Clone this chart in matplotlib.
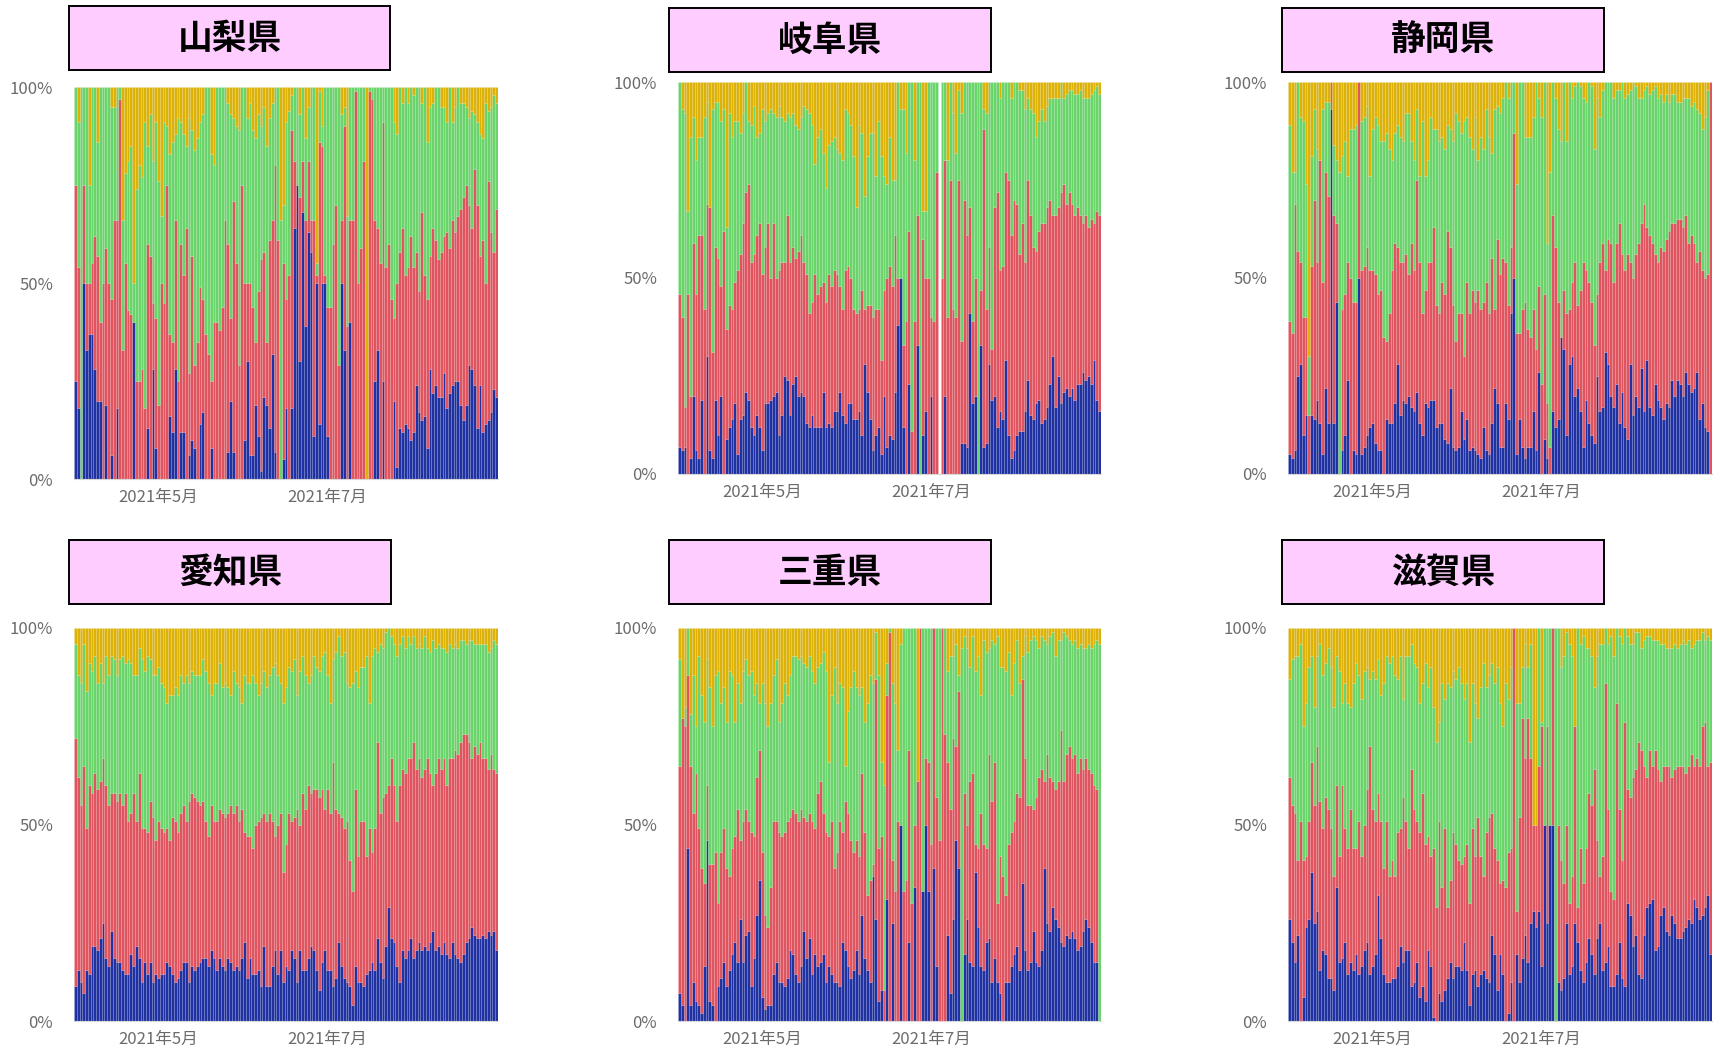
import numpy as np
import pandas as pd
import matplotlib
matplotlib.use('Agg')
import matplotlib.pyplot as plt

plt.rcParams['font.family'] = ['Noto Sans CJK JP', 'DejaVu Sans']

nan = np.nan

# daily shares (%) per prefecture, 2021-04-01 .. 2021-08-31
# yellow = 100 - blue - red - green
yamanashi_blue = [25,18,0,50,33,37,37,28,20,20, 0,19,0,6,0,18,0,0,0,0,
                  0,40,0,0,0,0,13,0,28,8, 0,0,0,0,16,12,28,0,12,12,
                  0,6,10,8,0,14,17,0,0,8, 0,0,0,0,0,7,20,7,0,0,
                  0,10,30,6,6,19,11,2,21,19, 13,32,7,0,0,5,18,0,18,64,
                  75,30,68,39,63,58,11,50,14,50, 50,11,0,0,0,0,50,33,0,40,
                  0,0,0,0,0,0,0,0,25,33, 0,25,0,0,0,20,3,13,12,14,
                  13,10,12,24,17,15,16,8,28,22, 24,21,21,27,18,22,24,25,25,19,
                  15,19,29,28,24,13,24,12,14,15, 17,23,21]
yamanashi_red = [50,36,0,25,17,13,18,34,37,20, 50,40,50,40,66,48,97,33,55,43,
                 42,0,25,25,28,18,47,57,17,33, 19,50,45,75,21,23,38,25,48,40,
                 64,21,47,21,35,35,29,37,32,17, 40,40,38,44,66,53,21,64,55,29,
                 75,40,20,44,38,16,37,54,37,16, 48,34,73,61,0,50,28,52,71,17,
                 0,42,13,27,18,8,55,2,72,35, 2,33,44,60,70,29,16,57,39,26,
                 66,99,50,59,81,0,99,97,41,31, 55,66,54,60,46,21,47,45,52,38,
                 41,52,42,34,31,53,36,38,29,42, 37,35,37,35,45,37,42,38,42,50,
                 57,56,41,36,55,57,33,49,36,61, 46,35,48]
yamanashi_green = [25,37,100,25,50,25,45,38,29,60, 50,41,50,49,29,34,3,33,23,38,
                   43,10,49,55,49,73,25,36,36,50, 57,17,46,15,46,51,22,67,31,36,
                   21,65,32,55,52,42,47,63,68,58, 40,60,62,56,34,36,52,21,35,60,
                   25,50,42,46,45,52,45,34,37,50, 31,30,20,39,66,15,45,42,9,19,
                   25,21,19,21,14,34,34,3,13,5, 48,56,56,40,30,71,27,5,28,34,
                   34,1,50,41,19,0,1,3,34,36, 45,9,46,40,54,50,38,42,32,48,
                   42,38,44,42,52,28,48,40,38,32, 39,44,37,33,28,41,25,32,33,27,
                   24,20,22,30,14,21,31,26,46,18, 32,40,27]

gifu_blue = [7,6,7,0,4,20,6,4,19,0, 30,6,4,19,10,20,0,9,12,14,
             18,5,14,15,21,19,12,10,15,12, 6,18,18,19,20,21,10,15,25,24,
             15,23,25,20,21,20,13,12,15,12, 12,12,21,12,13,12,16,16,21,15,
             13,18,18,14,14,16,10,28,21,14, 6,10,12,5,20,7,10,9,21,38,
             50,12,0,23,0,0,33,0,10,16, 0,20,0,0,nan,0,20,0,0,0,
             0,0,8,8,7,41,18,20,0,33, 7,8,28,19,20,12,16,14,29,10,
             4,6,10,11,11,16,24,15,14,18, 19,13,14,17,23,30,17,25,18,21,
             22,20,22,19,23,23,26,24,25,23, 29,19,16]
gifu_red = [39,34,10,46,16,39,40,57,42,42, 39,62,27,39,45,28,62,28,31,28,
            31,47,42,49,51,55,42,46,46,52, 45,40,46,31,44,29,42,39,29,42,
            39,35,30,37,40,34,38,29,29,39, 34,36,28,32,38,36,36,35,27,27,
            39,35,32,28,27,26,37,14,22,29, 34,32,30,24,27,43,43,39,40,12,
            0,21,39,39,11,39,33,0,50,34, 50,20,39,77,nan,50,60,40,75,42,
            40,75,26,62,54,27,21,30,0,14, 81,34,30,13,48,60,36,39,48,65,
            57,64,59,45,53,38,51,51,44,39, 43,51,50,51,47,36,49,43,54,53,
            47,52,47,47,45,43,38,42,38,42, 35,48,50]
gifu_green = [54,53,75,21,66,32,34,25,25,49, 26,0,62,37,40,42,31,26,49,44,
              41,38,31,28,28,16,35,38,25,23, 42,32,28,43,28,41,42,37,36,26,
              37,34,34,31,30,40,42,51,45,28, 40,40,33,29,33,37,34,32,34,38,
              41,39,39,39,27,47,40,29,38,44, 47,34,48,52,29,24,33,27,14,50,
              43,60,43,38,89,41,34,100,7,17, 50,60,61,23,nan,50,20,40,25,50,
              42,23,58,30,39,32,61,50,100,53, 5,50,42,68,32,28,44,47,23,25,
              35,30,31,42,34,39,21,27,34,29, 28,29,26,26,26,30,30,28,28,22,
              28,26,29,31,29,32,32,30,33,32, 34,32,31]

shizuoka_blue = [5,4,6,25,28,10,15,0,15,14, 19,13,5,22,13,93,13,44,0,6,
                 10,24,0,6,5,50,5,7,10,12, 13,8,6,6,0,14,13,13,18,28,
                 15,19,18,20,17,16,21,13,10,18, 17,19,19,12,13,13,9,8,22,7,
                 6,7,16,9,14,6,7,6,5,4, 12,6,5,13,22,18,7,7,18,14,
                 41,50,5,14,7,4,7,7,16,6, 26,0,9,4,0,16,12,14,35,32,
                 10,28,30,20,22,16,7,19,13,10, 8,25,16,17,31,28,20,17,23,13,
                 21,12,9,28,15,20,17,27,16,29, 17,15,23,19,17,14,18,17,24,20,
                 24,23,20,26,23,21,22,26,14,18, 12,11,0]
shizuoka_red = [34,32,63,32,26,30,25,15,38,56, 35,67,44,55,58,7,53,20,0,36,
                36,30,50,38,39,50,47,46,48,40, 39,43,40,41,35,20,28,39,41,30,
                39,35,38,31,42,36,54,41,31,29, 37,35,44,31,28,36,37,54,36,36,
                28,34,25,21,35,35,40,38,42,38, 32,43,36,42,20,42,44,48,36,29,
                17,37,31,22,35,40,30,28,26,26, 22,23,37,14,7,50,46,30,0,15,
                31,14,19,34,21,31,47,33,36,34, 25,21,38,42,21,32,39,32,36,51,
                35,40,47,26,35,36,42,37,53,34, 44,44,33,35,41,43,42,45,40,44,
                41,42,43,40,36,40,37,28,43,34, 38,40,100]
shizuoka_green = [50,41,8,43,37,50,34,15,28,23, 29,0,44,18,24,0,18,16,77,39,
                  39,22,38,44,45,0,38,38,36,24, 36,40,43,38,50,53,42,28,28,31,
                  32,31,36,41,26,28,18,22,49,29, 26,37,25,45,44,37,37,27,30,42,
                  58,49,46,60,42,45,36,47,33,44, 39,44,45,27,51,34,41,41,46,53,
                  42,13,38,64,58,42,49,51,49,68, 48,68,54,41,70,34,38,44,50,53,
                  44,58,47,45,57,52,42,43,51,55, 50,50,37,39,48,40,41,47,39,34,
                  44,44,41,44,50,43,37,32,29,36, 36,39,43,42,39,38,37,33,33,33,
                  30,30,33,30,37,33,36,39,35,36, 41,47,0]

aichi_blue = [9,13,10,7,13,12,19,19,18,21, 25,16,14,23,16,15,15,13,12,12,
              17,14,19,16,10,15,12,15,10,12, 11,12,12,15,14,12,10,11,13,15,
              15,10,14,13,14,15,16,16,14,18, 16,13,16,14,13,16,15,13,14,13,
              16,20,11,16,12,12,13,9,19,9, 9,14,18,12,18,10,14,13,18,16,
              10,18,13,13,16,19,18,13,8,15, 18,13,13,9,11,20,14,11,10,9,
              4,14,10,10,9,12,13,15,13,21, 15,11,19,29,21,20,14,10,18,16,
              18,21,16,18,20,18,19,18,20,23, 18,19,17,20,17,16,20,17,16,15,
              17,20,21,24,22,21,21,22,21,23, 22,23,18]
aichi_red = [63,49,45,58,36,48,39,44,41,40, 42,44,41,35,42,41,43,42,46,39,
             36,44,32,47,39,34,36,41,42,34, 40,37,36,34,32,40,41,37,40,40,
             36,46,44,44,42,40,40,35,33,37, 35,38,38,39,39,37,40,40,41,38,
             38,28,36,31,32,38,38,43,34,42, 44,37,29,38,35,28,31,40,33,36,
             44,32,45,41,44,39,41,46,49,44, 36,46,40,57,43,33,38,38,41,32,
             29,45,32,41,42,30,36,28,36,50, 38,46,39,31,46,40,37,50,46,47,
             49,46,55,46,47,44,45,49,43,37, 45,48,47,47,43,51,47,52,52,56,
             56,53,50,43,48,47,50,45,46,41, 46,41,45]
aichi_green = [24,26,31,31,35,31,31,30,27,30, 19,33,33,35,34,32,34,38,33,41,
               38,30,37,32,43,40,45,36,36,42, 39,37,37,32,37,31,34,35,35,31,
               37,30,31,31,32,33,36,38,39,28, 35,35,37,32,34,32,28,36,31,34,
               27,40,39,39,44,36,32,34,36,34, 35,39,44,38,33,43,40,37,38,40,
               29,39,35,34,26,30,34,31,32,34, 40,29,28,26,40,45,41,45,35,44,
               53,30,43,39,39,51,32,50,46,23, 43,38,41,40,31,36,42,36,34,32,
               31,29,27,31,29,33,34,28,31,37, 32,29,31,28,34,29,28,27,27,26,
               24,23,26,30,26,28,25,29,29,30, 27,33,33]

mie_blue = [7,4,0,44,4,10,5,4,2,14, 46,5,4,0,9,11,15,9,13,17,
            20,15,26,15,22,23,9,16,27,36, 6,3,4,4,12,15,10,10,9,11,
            18,17,12,10,14,23,16,21,12,17, 14,15,17,10,14,12,10,10,9,20,
            18,14,11,13,18,12,27,16,13,10, 37,26,5,8,0,31,0,25,0,0,
            50,0,0,20,0,34,0,0,33,50, 33,0,39,14,0,0,0,22,7,26,
            46,39,0,17,26,15,14,38,24,14, 13,20,21,10,16,10,7,0,10,10,
            14,17,19,13,35,18,13,15,23,15, 14,18,39,25,23,29,26,24,20,19,
            22,21,23,21,18,19,23,26,24,20, 15,15,0]
mie_red = [58,73,75,44,61,43,58,45,37,21, 14,35,36,43,21,32,34,30,24,27,
           27,39,20,36,32,28,39,31,35,33, 37,24,20,30,39,36,38,37,39,40,
           34,37,41,41,40,29,35,32,39,32, 44,46,36,38,33,39,29,33,42,28,
           38,39,35,30,28,30,36,32,19,26, 3,61,39,39,8,52,99,16,33,51,
           0,33,36,49,30,16,61,100,0,17, 33,45,61,43,46,100,73,44,47,46,
           24,45,0,41,24,46,49,7,20,39, 32,24,47,46,50,20,35,37,22,35,
           34,34,39,44,52,49,42,40,31,42, 48,46,22,43,39,32,33,37,54,42,
           46,49,44,47,45,48,41,41,40,43, 45,44,0]
mie_green = [27,0,5,12,13,35,12,44,44,41, 32,45,35,45,59,38,36,37,52,44,
             29,32,35,38,38,37,41,36,24,12, 43,54,51,47,37,41,28,34,38,32,
             36,39,40,41,39,39,39,40,38,37, 32,30,41,41,19,32,51,38,35,37,
             9,26,39,46,39,41,22,28,49,52, 46,12,44,19,52,8,1,45,48,18,
             46,67,64,31,70,50,0,0,67,33, 34,55,0,43,54,0,27,23,39,21,
             26,4,95,40,45,29,35,44,49,30, 52,50,27,41,30,68,48,53,57,49,
             35,40,39,29,6,31,39,42,44,40, 33,34,36,28,36,38,34,36,23,38,
             30,27,29,29,32,29,31,28,32,32, 36,38,96]

shiga_blue = [26,20,15,22,0,6,24,26,38,25, 28,13,18,17,11,11,8,34,15,16,
              20,12,15,13,17,12,14,18,20,12, 14,17,32,21,12,10,10,11,11,14,
              19,15,18,18,9,10,15,6,9,5, 18,14,1,0,7,5,8,11,15,11,
              14,14,13,20,13,4,12,13,9,12, 13,11,10,22,17,8,17,12,0,2,
              10,0,17,10,16,22,15,25,28,24, 28,14,50,25,50,50,0,10,8,11,
              25,12,14,25,20,13,10,15,21,17, 12,21,25,13,15,19,9,9,12,20,
              11,9,30,27,19,22,12,11,22,29, 30,31,18,19,27,29,23,22,27,25,
              21,21,23,24,26,25,31,29,26,27, 29,32,17]
shiga_red = [36,35,38,19,51,35,18,25,28,30, 42,43,31,40,43,38,29,26,27,44,
             29,32,39,31,27,39,28,32,39,58, 40,34,26,30,27,41,27,30,26,34,
             30,42,33,26,55,44,36,42,49,40, 29,28,43,29,44,29,41,18,21,37,
             31,27,27,22,32,26,37,29,43,30, 24,37,42,31,27,33,18,24,34,41,
             34,100,11,42,61,45,62,42,22,26, 37,61,0,50,0,50,0,40,33,24,
             25,18,23,50,9,31,25,29,37,38, 52,25,12,29,71,35,24,22,69,34,
             30,67,29,30,43,42,59,58,43,33, 39,34,51,45,34,36,42,43,35,39,
             44,44,42,39,39,43,34,38,39,48, 47,33,49]
shiga_green = [25,37,40,52,45,34,39,39,27,25, 23,40,39,34,41,41,43,33,47,21,
               37,37,26,42,47,37,40,39,31,17, 35,36,34,32,47,42,54,52,51,39,
               44,25,42,49,32,37,39,33,28,46, 38,48,36,42,25,52,33,57,49,41,
               42,49,46,40,41,41,37,39,25,43, 54,37,36,38,42,49,46,39,52,39,
               46,0,53,29,13,29,13,29,0,0, 35,1,50,25,50,0,100,50,49,58,
               49,66,56,0,71,52,63,51,37,38, 21,47,59,54,14,42,65,62,19,44,
               55,24,39,39,34,35,28,26,32,36, 29,32,28,33,35,31,30,30,33,32,
               30,31,32,33,32,27,31,30,32,24, 21,33,31]

titles = ['山梨県', '岐阜県', '静岡県', '愛知県', '三重県', '滋賀県']
series = [
    (yamanashi_blue, yamanashi_red, yamanashi_green),
    (gifu_blue, gifu_red, gifu_green),
    (shizuoka_blue, shizuoka_red, shizuoka_green),
    (aichi_blue, aichi_red, aichi_green),
    (mie_blue, mie_red, mie_green),
    (shiga_blue, shiga_red, shiga_green),
]
tick_dates = ['2021-05-01', '2021-07-01']
tick_labels = ['2021年5月', '2021年7月']

colors = ['#2031A2', '#DF545E', '#68D469', '#DCB208']

W, H = 1714, 1051
# axes boxes in pixels: left, right, top, bottom
axes_px = [(74, 498, 87, 479), (678, 1101, 82, 474), (1288, 1712, 82, 474),
           (74, 498, 628, 1021), (678, 1101, 628, 1021), (1288, 1712, 628, 1021)]
title_px = [(69, 390, 6, 70), (669, 991, 8, 72), (1282, 1604, 8, 72),
            (69, 391, 540, 604), (669, 991, 540, 604), (1282, 1604, 540, 604)]

fig = plt.figure(figsize=(W / 100, H / 100), dpi=100)
fig.patch.set_facecolor('white')

for k in range(6):
    blue, red, green = [np.array(s, dtype=float) for s in series[k]]
    yellow = 100 - blue - red - green
    dates = pd.date_range('2021-04-01', periods=len(blue), freq='D')

    l, r, t, b = axes_px[k]
    ax = fig.add_axes([l / W, 1 - b / H, (r - l) / W, (b - t) / H])
    bottom = np.zeros(len(blue))
    for vals, c in zip([blue, red, green, yellow], colors):
        ax.bar(dates, vals, bottom=bottom, width=1.0, color=c,
               edgecolor=(1, 1, 1, 0.16), linewidth=0.4)
        bottom = bottom + vals

    ax.set_xlim(dates[0] - pd.Timedelta(hours=12), dates[-1] + pd.Timedelta(hours=12))
    ax.set_ylim(0, 100)
    ax.set_yticks([0, 50, 100])
    ax.set_yticklabels(['0%', '50%', '100%'])
    ax.set_xticks(pd.to_datetime(tick_dates))
    ax.set_xticklabels(tick_labels)
    for s in ['top', 'right', 'left']:
        ax.spines[s].set_visible(False)
    ax.spines['bottom'].set_color('#d8d8d8')
    ax.tick_params(length=0, colors='#6b6b6b', labelsize=12)
    ax.tick_params(axis='y', pad=15)
    ax.tick_params(axis='x', pad=7)

    l, r, t, b = title_px[k]
    tax = fig.add_axes([l / W, 1 - b / H, (r - l) / W, (b - t) / H])
    tax.set_facecolor('#FFCCFF')
    tax.set_xticks([])
    tax.set_yticks([])
    for s in tax.spines.values():
        s.set_color('black')
        s.set_linewidth(1.4)
    tax.text(0.5, 0.5, titles[k], ha='center', va='center', fontsize=25,
             fontweight='bold', transform=tax.transAxes)

fig.savefig('out.png', dpi=100)
